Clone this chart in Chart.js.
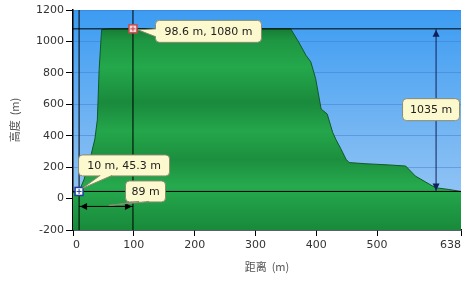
<!DOCTYPE html>
<html>
<head>
<meta charset="utf-8">
<script src="https://cdn.jsdelivr.net/npm/chart.js@4.4.1/dist/chart.umd.min.js"></script>
<style>
  html, body { margin: 0; padding: 0; background: #fff; }
  #wrap { width: 473px; height: 282px; }
</style>
</head>
<body>
<div id="wrap"><canvas id="chartPerfil"></canvas></div>
<script>
// Perfil do terreno (distância m / altura m)
const distance = [0, 5, 10, 18, 28, 36, 40, 43, 47, 60, 98.6, 150, 250, 340, 358, 372, 383, 391, 399, 408, 418, 427, 432, 440, 449, 454, 480, 520, 547, 555, 563, 580, 596, 618, 638];
const elevation = [38, 40, 45.3, 120, 250, 380, 500, 820, 1075, 1080, 1080, 1080, 1080, 1080, 1080, 990, 912, 870, 763, 570, 538, 421, 378, 320, 250, 229, 222, 214, 207, 175, 143, 105, 69, 58, 45];

const xTicks = [0, 100, 200, 300, 400, 500, 638];
const yRange = [-200, 1200];

const startPt = { x: 10, y: 45.3 };
const peakPt = { x: 98.6, y: 1080 };
const spanY = -50;      // altura da seta horizontal
const riseX = 597;      // posição da seta vertical
const labelPeak = "98.6 m, 1080 m";
const labelStart = "10 m, 45.3 m";
const labelSpan = "89 m";
const labelRise = "1035 m";

const terrain = distance.map((d, i) => ({ x: d, y: elevation[i] }));
const xEnd = xTicks[xTicks.length - 1];

// fundo azul
const fundo = {
  id: "fundo",
  beforeDraw(chart) {
    const { ctx, chartArea: a } = chart;
    const g = ctx.createLinearGradient(0, a.top, 0, a.bottom);
    g.addColorStop(0, "#3c9cf2");
    g.addColorStop(0.6, "#7ab8f3");
    g.addColorStop(1, "#9fcbf5");
    ctx.save();
    ctx.fillStyle = g;
    ctx.fillRect(a.left, a.top, a.right - a.left, a.bottom - a.top);
    ctx.restore();
  },
};

function arrowHead(ctx, x, y, dir) {
  const L = 7, W = 3.5;
  ctx.beginPath();
  ctx.moveTo(x, y);
  if (dir === "l") { ctx.lineTo(x + L, y - W); ctx.lineTo(x + L, y + W); }
  if (dir === "r") { ctx.lineTo(x - L, y - W); ctx.lineTo(x - L, y + W); }
  if (dir === "u") { ctx.lineTo(x - W, y + L); ctx.lineTo(x + W, y + L); }
  if (dir === "d") { ctx.lineTo(x - W, y - L); ctx.lineTo(x + W, y - L); }
  ctx.closePath();
  ctx.fill();
}

function callout(ctx, text, left, top, w, h, base, tip) {
  ctx.save();
  ctx.fillStyle = "#fdf9cf";
  ctx.strokeStyle = "#8a8a70";
  ctx.lineWidth = 1;
  ctx.beginPath();
  ctx.roundRect(left + 0.5, top + 0.5, w, h, 4);
  ctx.fill();
  ctx.stroke();
  if (base && tip) {
    ctx.beginPath();
    ctx.moveTo(base[0][0], base[0][1]);
    ctx.lineTo(tip[0], tip[1]);
    ctx.lineTo(base[1][0], base[1][1]);
    ctx.lineTo(base[2][0], base[2][1]);
    ctx.closePath();
    ctx.fill();
    ctx.beginPath();
    ctx.moveTo(base[0][0], base[0][1]);
    ctx.lineTo(tip[0], tip[1]);
    ctx.lineTo(base[1][0], base[1][1]);
    ctx.stroke();
  }
  ctx.fillStyle = "#222";
  ctx.font = "11px 'DejaVu Sans'";
  ctx.textAlign = "center";
  ctx.textBaseline = "middle";
  ctx.fillText(text, left + w / 2 + 0.5, top + h / 2 + 1);
  ctx.restore();
}

function marker(ctx, x, y, border, fill) {
  ctx.save();
  ctx.fillStyle = fill;
  ctx.strokeStyle = border;
  ctx.lineWidth = 1.5;
  ctx.fillRect(x - 4, y - 4, 8, 8);
  ctx.strokeRect(x - 4, y - 4, 8, 8);
  ctx.beginPath();
  ctx.moveTo(x - 2.5, y); ctx.lineTo(x + 2.5, y);
  ctx.moveTo(x, y - 2.5); ctx.lineTo(x, y + 2.5);
  ctx.lineWidth = 1;
  ctx.stroke();
  ctx.restore();
}

// setas, marcadores e balões
const anotacoes = {
  id: "anotacoes",
  afterDatasetsDraw(chart) {
    const { ctx, scales: { x, y } } = chart;
    const sx = x.getPixelForValue(startPt.x), sy = y.getPixelForValue(startPt.y);
    const px = x.getPixelForValue(peakPt.x), py = y.getPixelForValue(peakPt.y);

    // seta horizontal (vão)
    const ay = y.getPixelForValue(spanY);
    ctx.save();
    ctx.strokeStyle = "#000";
    ctx.fillStyle = "#000";
    ctx.lineWidth = 1;
    ctx.beginPath();
    ctx.moveTo(sx, ay); ctx.lineTo(px, ay);
    ctx.stroke();
    arrowHead(ctx, sx + 1, ay, "l");
    arrowHead(ctx, px - 1, ay, "r");

    // seta vertical (desnível)
    const rx = x.getPixelForValue(riseX);
    ctx.strokeStyle = "#10205a";
    ctx.fillStyle = "#10205a";
    ctx.beginPath();
    ctx.moveTo(rx, py); ctx.lineTo(rx, sy);
    ctx.stroke();
    arrowHead(ctx, rx, py + 1, "u");
    arrowHead(ctx, rx, sy - 1, "d");
    ctx.restore();

    marker(ctx, sx, sy, "#1f3f9a", "#ffffff");
    marker(ctx, px, py, "#c84a4a", "#f6d6d6");

    // balão do pico
    let l = px + 22, t = py - 9;
    callout(ctx, labelPeak, l, t, 106, 22,
      [[l + 1, t + 9], [l + 1, t + 17], [l + 4, t + 13]], [px + 5, py + 1]);
    // balão do início
    l = sx - 1; t = sy - 37;
    callout(ctx, labelStart, l, t, 91, 21,
      [[l + 22, t + 21], [l + 34, t + 21], [l + 28, t + 18]], [sx + 3, sy - 3]);
    // balão do vão
    const mx = (sx + px) / 2;
    l = mx + 19; t = ay - 26;
    callout(ctx, labelSpan, l, t, 40, 21,
      [[l + 14, t + 21], [l + 24, t + 21], [l + 19, t + 18]], [mx + 3, ay - 1]);
    // balão do desnível
    const my = (py + sy) / 2;
    callout(ctx, labelRise, rx - 34, my - 12, 57, 22, null, null);
  },
};

const perfil = document.getElementById("chartPerfil");

new Chart(perfil, {
  type: "line",
  data: {
    datasets: [
      {
        label: "Terreno",
        data: terrain,
        order: 2,
        fill: "start",
        borderColor: "#0f5a28",
        borderWidth: 1,
        pointRadius: 0,
        tension: 0,
        backgroundColor: (c) => {
          const a = c.chart.chartArea;
          if (!a) return "#22a04a";
          const g = c.chart.ctx.createLinearGradient(0, a.top, 0, a.bottom);
          g.addColorStop(0.08, "#157a34");
          g.addColorStop(0.14, "#1e9642");
          g.addColorStop(0.26, "#24a84c");
          g.addColorStop(0.42, "#1a8a3c");
          g.addColorStop(0.55, "#24a64b");
          g.addColorStop(0.68, "#1c8f3e");
          g.addColorStop(0.80, "#26aa4e");
          g.addColorStop(0.92, "#1e9642");
          g.addColorStop(1, "#188a3a");
          return g;
        },
      },
      {
        data: [{ x: 0, y: peakPt.y }, { x: xEnd, y: peakPt.y }],
        order: 1, borderColor: "#000", borderWidth: 1, pointRadius: 0, fill: false,
      },
      {
        data: [{ x: 0, y: startPt.y }, { x: xEnd, y: startPt.y }],
        order: 1, borderColor: "#000", borderWidth: 1, pointRadius: 0, fill: false,
      },
      {
        data: [{ x: startPt.x, y: yRange[0] }, { x: startPt.x, y: yRange[1] }],
        order: 1, borderColor: "#000", borderWidth: 1, pointRadius: 0, fill: false,
      },
      {
        data: [{ x: peakPt.x, y: yRange[0] }, { x: peakPt.x, y: yRange[1] }],
        order: 1, borderColor: "#000", borderWidth: 1, pointRadius: 0, fill: false,
      },
    ],
  },
  options: {
    responsive: true,
    maintainAspectRatio: false,
    animation: false,
    layout: { padding: { top: 10, right: 12, left: 8, bottom: 0 } },
    plugins: {
      legend: { display: false },
      tooltip: { enabled: false },
    },
    scales: {
      x: {
        type: "linear",
        min: 0,
        max: xEnd,
        afterBuildTicks: (s) => { s.ticks = xTicks.map((v) => ({ value: v })); },
        afterFit: (s) => { s.height = 52; },
        grid: { drawOnChartArea: false, tickColor: "#000", tickLength: 6 },
        border: { color: "#000", width: 1.5 },
        ticks: {
          color: "#333", padding: 3, align: "inner", maxRotation: 0, autoSkip: false,
          font: { family: "DejaVu Sans", size: 11 },
        },
        title: {
          display: true, text: "距离  (m)", color: "#555",
          padding: { top: 4, bottom: 9 },
          font: { family: "Noto Sans CJK SC", size: 11 },
        },
      },
      y: {
        min: yRange[0],
        max: yRange[1],
        afterFit: (s) => { s.width = 65; },
        grid: { color: "rgba(60,120,200,0.45)", tickColor: "#000", tickLength: 7 },
        border: { color: "#000", width: 1.5 },
        ticks: {
          stepSize: 200, color: "#333", padding: 2,
          font: { family: "DejaVu Sans", size: 11 },
          callback: (v) => String(v),
        },
        title: {
          display: true, text: "高度  (m)", color: "#555", padding: 0,
          font: { family: "Noto Sans CJK SC", size: 11 },
        },
      },
    },
  },
  plugins: [fundo, anotacoes],
});
</script>
</body>
</html>
